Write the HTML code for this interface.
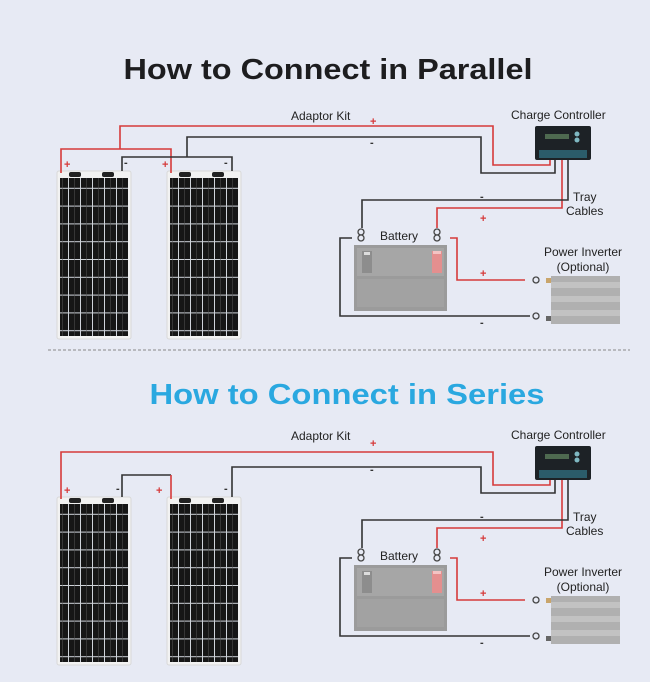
<!DOCTYPE html>
<html><head><meta charset="utf-8"><style>
html,body{margin:0;padding:0;background:#e7eaf4;}
svg{display:block;font-family:"Liberation Sans",sans-serif;}
</style></head><body>
<svg width="650" height="682" viewBox="0 0 650 682" xmlns="http://www.w3.org/2000/svg">
<defs>
<pattern id="cells" x="0" y="0" width="12" height="17.8" patternUnits="userSpaceOnUse">
<rect width="12" height="17.8" fill="#161616"/>
<rect x="11" width="1" height="17.8" fill="#cfd3da"/>
<rect y="16.8" width="12" height="1" fill="#cfd3da"/>
<rect x="5.5" width="0.5" height="17.8" fill="#555"/>
</pattern>
<g id="panel">
<rect x="0" y="0" width="74" height="168" rx="2" fill="#f2f2f2" stroke="#d8d8d8"/>
<rect x="3" y="7" width="68" height="158" fill="url(#cells)"/>
<rect x="12" y="1" width="12" height="5" rx="2" fill="#222"/>
<rect x="45" y="1" width="12" height="5" rx="2" fill="#222"/>
</g>
<g id="ctrl">
<rect x="0" y="0" width="56" height="34" rx="2" fill="#1d2226"/>
<rect x="10" y="8" width="24" height="5" fill="#4e6a50"/>
<rect x="4" y="24" width="48" height="8" fill="#2b5c6a"/>
<circle cx="42" cy="8" r="2.5" fill="#7fb8c2"/><circle cx="42" cy="14" r="2.5" fill="#7fb8c2"/>
</g>
<g id="batt">
<rect x="0" y="0" width="93" height="66" fill="#9b9b9b"/>
<rect x="3" y="3" width="87" height="28" fill="#a6a6a6"/>
<rect x="3" y="34" width="87" height="28" fill="#a2a2a2"/>
<rect x="8" y="6" width="10" height="22" fill="#8d8d8d"/>
<rect x="10" y="7" width="6" height="3" fill="#ddd"/>
<rect x="78" y="6" width="10" height="22" fill="#e48f8f"/>
<rect x="79" y="6" width="8" height="3" fill="#f3c3c3"/>
</g>
<g id="inv">
<rect x="0" y="0" width="69" height="48" fill="#b0b0b0"/>
<rect x="0" y="6" width="69" height="6" fill="#c2c2c2"/>
<rect x="0" y="20" width="69" height="6" fill="#c2c2c2"/>
<rect x="0" y="34" width="69" height="6" fill="#c2c2c2"/>
<rect x="-5" y="2" width="5" height="5" fill="#c9a56b"/>
<rect x="-5" y="40" width="5" height="5" fill="#666"/>
</g>
</defs>

<text x="328" y="79" text-anchor="middle" font-size="29" font-weight="bold" fill="#1d1d1f" textLength="409" lengthAdjust="spacingAndGlyphs">How to Connect in Parallel</text>
<line x1="48" y1="350" x2="630" y2="350" stroke="#888" stroke-dasharray="3,2"/>
<text x="347" y="404" text-anchor="middle" font-size="29" font-weight="bold" fill="#2aa8e0" textLength="395" lengthAdjust="spacingAndGlyphs">How to Connect in Series</text>

<!-- PARALLEL -->
<g>
<use href="#panel" x="57" y="171"/>
<use href="#panel" x="167" y="171"/>
<g fill="none" stroke-width="1.6">
<path d="M61 173 V149 H171 V173 M120 149 V126 H493 V165 H550 V158" stroke="#d63a3a"/>
<path d="M122 171 V157 H232 V171 M187 157 V137 H481 V173 H555 V158" stroke="#333"/>
<path d="M562 160 V208 H437 V228" stroke="#d63a3a"/>
<path d="M568 160 V200 H362 V228" stroke="#333"/>
<path d="M352 238 H340 V316 H530" stroke="#333"/>
<path d="M450 238 H457 V280 H525" stroke="#d63a3a"/>
</g>
<use href="#ctrl" x="535" y="126"/>
<use href="#batt" x="354" y="245"/>
<use href="#inv" x="551" y="276"/>
<g fill="#e7eaf4" stroke="#444" stroke-width="1.3">
<circle cx="361" cy="232" r="3"/><circle cx="361" cy="238" r="3"/>
<circle cx="437" cy="232" r="3" stroke="#444"/><circle cx="437" cy="238" r="3"/>
<circle cx="536" cy="280" r="3"/><circle cx="536" cy="316" r="3"/>
</g>
<g font-size="12" fill="#222">
<text x="291" y="120">Adaptor Kit</text>
<text x="511" y="119">Charge Controller</text>
<text x="573" y="201">Tray</text><text x="566" y="215">Cables</text>
<text x="380" y="240">Battery</text>
<text x="583" y="256" text-anchor="middle">Power Inverter</text>
<text x="583" y="271" text-anchor="middle">(Optional)</text>
</g>
<g font-size="11" font-weight="bold">
<text x="64" y="168" fill="#d63a3a">+</text><text x="124" y="166" fill="#333">-</text>
<text x="162" y="168" fill="#d63a3a">+</text><text x="224" y="166" fill="#333">-</text>
<text x="370" y="125" fill="#d63a3a">+</text><text x="370" y="146" fill="#333">-</text>
<text x="480" y="200" fill="#333">-</text><text x="480" y="222" fill="#d63a3a">+</text>
<text x="480" y="277" fill="#d63a3a">+</text><text x="480" y="326" fill="#333">-</text>
</g>
</g>

<!-- SERIES -->
<g transform="translate(0,320)">
<use href="#panel" x="57" y="177"/>
<use href="#panel" x="167" y="177"/>
<g fill="none" stroke-width="1.6">
<path d="M61 179 V132 H493 V165 H550 V158" stroke="#d63a3a"/>
<path d="M122 177 V155 H171" stroke="#333"/>
<path d="M171 155 V179" stroke="#d63a3a"/>
<path d="M232 177 V147 H481 V173 H555 V158" stroke="#333"/>
<path d="M562 160 V208 H437 V228" stroke="#d63a3a"/>
<path d="M568 160 V200 H362 V228" stroke="#333"/>
<path d="M352 238 H340 V316 H530" stroke="#333"/>
<path d="M450 238 H457 V280 H525" stroke="#d63a3a"/>
</g>
<use href="#ctrl" x="535" y="126"/>
<use href="#batt" x="354" y="245"/>
<use href="#inv" x="551" y="276"/>
<g fill="#e7eaf4" stroke="#444" stroke-width="1.3">
<circle cx="361" cy="232" r="3"/><circle cx="361" cy="238" r="3"/>
<circle cx="437" cy="232" r="3"/><circle cx="437" cy="238" r="3"/>
<circle cx="536" cy="280" r="3"/><circle cx="536" cy="316" r="3"/>
</g>
<g font-size="12" fill="#222">
<text x="291" y="120">Adaptor Kit</text>
<text x="511" y="119">Charge Controller</text>
<text x="573" y="201">Tray</text><text x="566" y="215">Cables</text>
<text x="380" y="240">Battery</text>
<text x="583" y="256" text-anchor="middle">Power Inverter</text>
<text x="583" y="271" text-anchor="middle">(Optional)</text>
</g>
<g font-size="11" font-weight="bold">
<text x="64" y="174" fill="#d63a3a">+</text><text x="116" y="172" fill="#333">-</text>
<text x="156" y="174" fill="#d63a3a">+</text><text x="224" y="172" fill="#333">-</text>
<text x="370" y="127" fill="#d63a3a">+</text><text x="370" y="153" fill="#333">-</text>
<text x="480" y="200" fill="#333">-</text><text x="480" y="222" fill="#d63a3a">+</text>
<text x="480" y="277" fill="#d63a3a">+</text><text x="480" y="326" fill="#333">-</text>
</g>
</g>
</svg>
</body></html>
